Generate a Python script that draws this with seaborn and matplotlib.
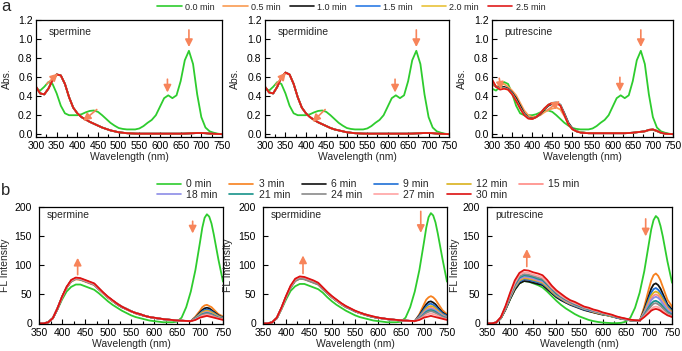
import matplotlib
matplotlib.use("Agg")
import matplotlib.pyplot as plt
from matplotlib.lines import Line2D
from matplotlib.ticker import MultipleLocator
from matplotlib.font_manager import FontProperties
import numpy as np
import pandas as pd
import seaborn as sns

# ---------------- panel a : absorbance ----------------
WL_A = list(range(300, 751, 10))
TIMES_A = ["0.0 min", "0.5 min", "1.0 min", "1.5 min", "2.0 min", "2.5 min"]
COLORS_A = ["#2ecc2e", "#f99b52", "#151515", "#2c7be5", "#e9c23a", "#e01b1b"]

ABS_0MIN = [0.48, 0.46, 0.50, 0.55, 0.53, 0.43, 0.30, 0.22, 0.20, 0.20,
            0.20, 0.21, 0.23, 0.245, 0.25, 0.235, 0.20, 0.16, 0.12, 0.09,
            0.065, 0.055, 0.05, 0.05, 0.05, 0.06, 0.085, 0.12, 0.15, 0.20,
            0.29, 0.38, 0.41, 0.38, 0.41, 0.56, 0.78, 0.88, 0.74, 0.42,
            0.18, 0.07, 0.03, 0.015, 0.005, 0.0]
# spermine: the 0.5-2.5 min spectra coincide in the picture
ABS_SPM_REACTED = [0.50, 0.43, 0.42, 0.48, 0.57, 0.63, 0.62, 0.53, 0.39, 0.28,
                   0.22, 0.18, 0.155, 0.13, 0.11, 0.09, 0.07, 0.055, 0.04, 0.03,
                   0.02, 0.015, 0.01, 0.008, 0.006, 0.005, 0.005, 0.005, 0.005, 0.005,
                   0.005, 0.005, 0.005, 0.005, 0.005, 0.005, 0.006, 0.008, 0.01, 0.012,
                   0.012, 0.01, 0.006, 0.004, 0.002, 0.0]
ABS_SPD_REACTED = [0.50, 0.44, 0.43, 0.50, 0.60, 0.65, 0.63, 0.53, 0.39, 0.28,
                   0.22, 0.18, 0.15, 0.125, 0.105, 0.085, 0.065, 0.05, 0.04, 0.03,
                   0.02, 0.015, 0.01, 0.008, 0.006, 0.005, 0.005, 0.005, 0.005, 0.005,
                   0.005, 0.005, 0.005, 0.005, 0.005, 0.005, 0.006, 0.008, 0.01, 0.012,
                   0.012, 0.01, 0.006, 0.004, 0.002, 0.0]
ABS_PUT_05 = [0.52, 0.50, 0.52, 0.53, 0.50, 0.46, 0.41, 0.33, 0.25, 0.20,
              0.18, 0.185, 0.20, 0.23, 0.255, 0.27, 0.28, 0.26, 0.19, 0.11,
              0.06, 0.03, 0.02, 0.015, 0.01, 0.01, 0.01, 0.01, 0.01, 0.01,
              0.01, 0.01, 0.01, 0.01, 0.012, 0.015, 0.02, 0.025, 0.03, 0.04,
              0.045, 0.03, 0.015, 0.005, 0.002, 0.0]
ABS_PUT_10 = [0.55, 0.50, 0.49, 0.50, 0.48, 0.44, 0.38, 0.30, 0.22, 0.175,
              0.165, 0.18, 0.21, 0.26, 0.30, 0.32, 0.33, 0.31, 0.22, 0.12,
              0.06, 0.03, 0.02, 0.015, 0.01, 0.01, 0.01, 0.01, 0.01, 0.01,
              0.01, 0.01, 0.01, 0.01, 0.012, 0.015, 0.02, 0.025, 0.03, 0.045,
              0.048, 0.033, 0.015, 0.005, 0.002, 0.0]
ABS_PUT_15 = [0.56, 0.50, 0.48, 0.49, 0.475, 0.43, 0.36, 0.28, 0.21, 0.17,
              0.16, 0.18, 0.22, 0.27, 0.31, 0.33, 0.335, 0.31, 0.21, 0.11,
              0.055, 0.03, 0.02, 0.015, 0.01, 0.01, 0.01, 0.01, 0.01, 0.01,
              0.01, 0.01, 0.01, 0.01, 0.012, 0.015, 0.02, 0.025, 0.03, 0.045,
              0.05, 0.035, 0.015, 0.005, 0.002, 0.0]
ABS_PUT_20 = [0.57, 0.50, 0.475, 0.485, 0.47, 0.425, 0.355, 0.275, 0.205, 0.167,
              0.16, 0.18, 0.22, 0.27, 0.31, 0.33, 0.333, 0.305, 0.205, 0.105,
              0.052, 0.03, 0.02, 0.015, 0.01, 0.01, 0.01, 0.01, 0.01, 0.01,
              0.01, 0.01, 0.01, 0.01, 0.012, 0.015, 0.02, 0.025, 0.03, 0.045,
              0.05, 0.035, 0.015, 0.005, 0.002, 0.0]
ABS_PUT_25 = [0.58, 0.50, 0.47, 0.48, 0.47, 0.42, 0.35, 0.27, 0.20, 0.165,
              0.16, 0.18, 0.22, 0.27, 0.31, 0.33, 0.33, 0.30, 0.20, 0.10,
              0.05, 0.03, 0.015, 0.012, 0.01, 0.01, 0.01, 0.01, 0.01, 0.01,
              0.01, 0.01, 0.01, 0.01, 0.012, 0.015, 0.02, 0.025, 0.03, 0.045,
              0.05, 0.035, 0.015, 0.005, 0.002, 0.0]

# ---------------- panel b : fluorescence ----------------
WL_B = list(range(350, 681, 10)) + [690, 700, 705, 710, 715, 720, 725, 730, 740, 750]
TIMES_B = ["0 min", "3 min", "6 min", "9 min", "12 min", "15 min",
           "18 min", "21 min", "24 min", "27 min", "30 min"]
COLORS_B = ["#2ecc2e", "#f7801e", "#111111", "#1f6fd6", "#d9b21c", "#ff8a84",
            "#8c8ce6", "#16928a", "#8a8a8a", "#ffa3a3", "#dd1111"]

FL_SPM_00 = [0, 0, 2, 9, 24, 41, 55, 63, 67, 67, 64, 61, 58, 52, 45, 38, 32, 27, 22, 18,
             14, 11, 9, 7, 5, 4, 3, 2, 2, 2, 3, 10, 28, 55,
             92, 140, 165, 182, 188, 184, 172, 153, 110, 72]
FL_SPM_03 = [0, 0, 2, 9, 25, 44, 61, 72, 76, 75, 72, 69, 66, 59, 51, 44, 38, 33, 28, 24,
             21, 17, 15, 13, 11, 9.5, 8.4, 7.2, 6.5, 5.7, 4.9, 4.6, 4.2, 3.8,
             12, 22, 28, 31, 32, 30, 28, 24, 16, 12]
FL_SPM_06 = [0, 0, 2, 9, 25, 45, 62, 73, 77, 76, 73, 70, 67, 59, 52, 45, 39, 33, 28, 25,
             21, 18, 15, 13, 11, 9.6, 8.5, 7.3, 6.5, 5.8, 5.0, 4.6, 4.2, 3.9,
             10, 19, 23, 26, 27, 26, 23, 20, 14, 10]
FL_SPM_09 = [0, 0, 2, 9, 25, 45, 62, 73, 77, 76, 73, 70, 67, 59, 52, 45, 39, 33, 28, 25,
             21, 18, 15, 13, 11, 9.6, 8.5, 7.3, 6.5, 5.8, 5.0, 4.6, 4.2, 3.9,
             10, 17, 21, 23, 24, 23, 21, 18, 13, 10]
FL_SPM_12 = [0, 0, 2, 9, 25, 45, 62, 73, 77, 76, 73, 70, 67, 59, 52, 45, 39, 33, 28, 25,
             21, 18, 15, 13, 11, 9.6, 8.5, 7.3, 6.5, 5.8, 5.0, 4.6, 4.2, 3.9,
             9, 16, 19, 21, 22, 21, 19, 17, 12, 9]
FL_SPM_15 = [0, 0, 2, 9, 26, 45, 62, 74, 78, 77, 74, 71, 68, 60, 52, 45, 39, 34, 29, 25,
             21, 18, 16, 13, 11, 9.8, 8.6, 7.4, 6.6, 5.9, 5.1, 4.7, 4.3, 3.9,
             8, 14, 17, 19, 20, 19, 17, 15, 11, 8]
FL_SPM_18 = [0, 0, 2, 9, 25, 45, 62, 73, 77, 76, 73, 70, 67, 59, 52, 45, 39, 33, 28, 25,
             21, 18, 15, 13, 11, 9.6, 8.5, 7.3, 6.5, 5.8, 5.0, 4.6, 4.2, 3.9,
             8, 14, 16, 18, 19, 18, 16, 14, 10, 8]
FL_SPM_21 = [0, 0, 2, 9, 26, 45, 62, 74, 78, 77, 74, 71, 68, 60, 52, 45, 39, 34, 29, 25,
             21, 18, 16, 13, 11, 9.8, 8.6, 7.4, 6.6, 5.9, 5.1, 4.7, 4.3, 3.9,
             8, 13, 16, 17, 18, 17, 16, 14, 10, 8]
FL_SPM_24 = [0, 0, 2, 9, 25, 45, 62, 73, 77, 76, 73, 70, 67, 59, 52, 45, 39, 33, 28, 25,
             21, 18, 15, 13, 11, 9.6, 8.5, 7.3, 6.5, 5.8, 5.0, 4.6, 4.2, 3.9,
             7, 12, 15, 16, 17, 16, 15, 13, 9, 7]
FL_SPM_27 = [0, 0, 2, 9, 26, 45, 62, 74, 78, 77, 74, 71, 68, 60, 52, 45, 39, 34, 29, 25,
             21, 18, 16, 13, 11, 9.8, 8.6, 7.4, 6.6, 5.9, 5.1, 4.7, 4.3, 3.9,
             7, 11, 13, 14, 15, 14, 13, 11, 9, 7]
FL_SPM_30 = [0, 0, 2, 9, 26, 46, 63, 75, 79, 78, 75, 72, 69, 61, 53, 46, 40, 34, 29, 25,
             21, 18, 16, 13, 11, 9.9, 8.7, 7.5, 6.7, 5.9, 5.1, 4.7, 4.3, 4.0,
             6, 10, 11, 12, 13, 12, 11, 10, 8, 6]

FL_SPD_00 = [0, 0, 2, 9, 24, 41, 56, 64, 68, 68, 65, 62, 59, 53, 45, 38, 32, 27, 22, 18,
             14, 11, 9, 7, 5, 4, 3, 2, 2, 2, 3, 10, 28, 55,
             92, 140, 165, 183, 190, 186, 174, 155, 112, 72]
FL_SPD_03 = [0, 0, 2, 9, 25, 45, 62, 73, 77, 76, 73, 70, 67, 59, 52, 45, 39, 33, 28, 25,
             21, 18, 15, 13, 11, 9.6, 8.5, 7.3, 6.5, 5.8, 5.0, 4.6, 4.2, 3.9,
             16, 33, 41, 45, 47, 45, 41, 35, 23, 16]
FL_SPD_06 = [0, 0, 2, 9, 26, 45, 62, 74, 78, 77, 74, 71, 68, 60, 52, 45, 39, 34, 29, 25,
             21, 18, 16, 13, 11, 9.8, 8.6, 7.4, 6.6, 5.9, 5.1, 4.7, 4.3, 3.9,
             14, 27, 33, 37, 38, 36, 33, 28, 19, 14]
FL_SPD_09 = [0, 0, 2, 9, 26, 45, 62, 74, 78, 77, 74, 71, 68, 60, 52, 45, 39, 34, 29, 25,
             21, 18, 16, 13, 11, 9.8, 8.6, 7.4, 6.6, 5.9, 5.1, 4.7, 4.3, 3.9,
             13, 24, 29, 33, 34, 32, 29, 25, 17, 13]
FL_SPD_12 = [0, 0, 2, 9, 26, 45, 62, 74, 78, 77, 74, 71, 68, 60, 52, 45, 39, 34, 29, 25,
             21, 18, 16, 13, 11, 9.8, 8.6, 7.4, 6.6, 5.9, 5.1, 4.7, 4.3, 3.9,
             11, 21, 26, 29, 30, 29, 26, 22, 15, 11]
FL_SPD_15 = [0, 0, 2, 9, 26, 46, 63, 75, 79, 78, 75, 72, 69, 61, 53, 46, 40, 34, 29, 25,
             21, 18, 16, 13, 11, 9.9, 8.7, 7.5, 6.7, 5.9, 5.1, 4.7, 4.3, 4.0,
             10, 19, 23, 26, 27, 26, 23, 20, 14, 10]
FL_SPD_18 = [0, 0, 2, 9, 26, 46, 63, 75, 79, 78, 75, 72, 69, 61, 53, 46, 40, 34, 29, 25,
             21, 18, 16, 13, 11, 9.9, 8.7, 7.5, 6.7, 5.9, 5.1, 4.7, 4.3, 4.0,
             10, 18, 22, 24, 25, 24, 22, 19, 13, 10]
FL_SPD_21 = [0, 0, 2, 9, 26, 46, 63, 75, 79, 78, 75, 72, 69, 61, 53, 46, 40, 34, 29, 25,
             21, 18, 16, 13, 11, 9.9, 8.7, 7.5, 6.7, 5.9, 5.1, 4.7, 4.3, 4.0,
             9, 16, 20, 22, 23, 22, 20, 17, 12, 9]
FL_SPD_24 = [0, 0, 2, 9, 25, 45, 62, 73, 77, 76, 73, 70, 67, 59, 52, 45, 39, 33, 28, 25,
             21, 18, 15, 13, 11, 9.6, 8.5, 7.3, 6.5, 5.8, 5.0, 4.6, 4.2, 3.9,
             9, 15, 18, 20, 21, 20, 18, 16, 11, 9]
FL_SPD_27 = [0, 0, 2, 10, 26, 46, 64, 76, 80, 79, 76, 73, 70, 62, 54, 46, 40, 34, 30, 26,
             22, 18, 16, 14, 12, 10, 8.8, 7.6, 6.8, 6.0, 5.2, 4.8, 4.4, 4.0,
             7, 12, 15, 16, 17, 16, 15, 13, 9, 7]
FL_SPD_30 = [0, 0, 2, 10, 27, 47, 65, 77, 81, 80, 77, 74, 70, 62, 54, 47, 41, 35, 30, 26,
             22, 19, 16, 14, 12, 10, 8.9, 7.7, 6.9, 6.1, 5.3, 4.9, 4.5, 4.1,
             6, 10, 11, 12, 13, 12, 11, 10, 8, 6]

FL_PUT_00 = [0, 0, 1.5, 9, 24, 42, 58, 69, 73, 72, 69, 66, 62, 55, 47, 39, 32, 26, 21, 16,
             12, 9, 6, 4, 2.5, 1.5, 1, 0.5, 0.5, 1, 3, 10, 27, 53,
             90, 138, 162, 178, 185, 181, 168, 150, 107, 70]
FL_PUT_03 = [0, 0, 1.5, 9, 24, 43, 59, 70, 74, 73, 71, 69, 67, 60, 53, 46, 41, 36, 33, 30,
             27, 24, 21, 19, 17, 16, 14, 12, 10, 8, 7, 5, 4.4, 4.1,
             29, 60, 74, 83, 86, 82, 74, 63, 41, 29]
FL_PUT_06 = [0, 0, 1.5, 9, 24, 42, 58, 69, 73, 72, 70, 68, 66, 59, 52, 45, 40, 36, 32, 29,
             26, 23, 21, 19, 17, 15, 14, 12, 10, 8, 6.6, 5.1, 4.4, 4.0,
             24, 48, 60, 67, 69, 66, 60, 51, 33, 24]
FL_PUT_09 = [0, 0, 1.5, 9, 25, 44, 61, 72, 76, 75, 73, 71, 68, 62, 54, 47, 42, 37, 33, 30,
             27, 24, 22, 20, 18, 16, 14, 12, 10, 8.4, 6.8, 5.3, 4.6, 4.2,
             21, 43, 53, 59, 61, 58, 53, 45, 30, 21]
FL_PUT_12 = [0, 0, 1.6, 9, 26, 45, 62, 74, 78, 77, 75, 73, 70, 63, 55, 48, 43, 38, 34, 31,
             28, 25, 23, 20, 18, 16, 14, 12, 11, 8.6, 7.0, 5.5, 4.7, 4.3,
             20, 39, 48, 53, 55, 53, 48, 41, 27, 20]
FL_PUT_15 = [0, 0, 1.6, 10, 26, 46, 64, 76, 80, 79, 77, 74, 72, 65, 57, 50, 44, 39, 35, 32,
             29, 26, 23, 21, 19, 17, 15, 13, 11, 8.8, 7.2, 5.6, 4.8, 4.4,
             18, 35, 43, 48, 50, 48, 43, 37, 25, 18]
FL_PUT_18 = [0, 0, 1.6, 10, 27, 47, 65, 77, 81, 80, 78, 75, 73, 66, 58, 50, 45, 40, 36, 32,
             29, 26, 23, 21, 19, 17, 15, 13, 11, 8.9, 7.3, 5.7, 4.9, 4.5,
             17, 32, 40, 44, 46, 44, 40, 34, 23, 17]
FL_PUT_21 = [0, 0, 1.7, 10, 27, 48, 66, 79, 83, 82, 80, 77, 75, 67, 59, 51, 46, 41, 37, 33,
             30, 27, 24, 22, 20, 17, 15, 13, 11, 9.1, 7.5, 5.8, 5.0, 4.6,
             15, 28, 34, 38, 39, 37, 34, 29, 20, 15]
FL_PUT_24 = [0, 0, 1.7, 10, 28, 49, 68, 81, 85, 84, 82, 79, 77, 69, 60, 53, 47, 42, 37, 34,
             31, 27, 25, 22, 20, 18, 16, 14, 11, 9.4, 7.7, 6.0, 5.1, 4.7,
             14, 25, 30, 34, 35, 33, 30, 26, 18, 14]
FL_PUT_27 = [0, 0, 1.8, 11, 29, 51, 70, 84, 88, 87, 84, 82, 79, 71, 62, 55, 48, 43, 39, 35,
             32, 28, 26, 23, 21, 18, 16, 14, 12, 9.7, 7.9, 6.2, 5.3, 4.8,
             12, 21, 25, 28, 29, 28, 25, 22, 15, 12]
FL_PUT_30 = [0, 0, 1.8, 11, 30, 53, 74, 87, 92, 91, 88, 86, 83, 75, 65, 57, 51, 45, 40, 37,
             33, 29, 27, 24, 22, 19, 17, 15, 12, 10, 8.3, 6.4, 5.5, 5.1,
             11, 18, 22, 24, 25, 24, 22, 19, 14, 11]

ARROW_C = "#f7845a"


def to_long(wl, times, series):
    return pd.DataFrame({
        "wl": np.tile(np.asarray(wl, float), len(times)),
        "val": np.concatenate([np.asarray(s, float) for s in series]),
        "time": np.repeat(times, len(wl)),
    })


def arrow(ax, x0, y0, x1, y1):
    ax.annotate("", xy=(x1, y1), xytext=(x0, y0),
                arrowprops=dict(arrowstyle="-|>,head_length=0.55,head_width=0.28",
                                color=ARROW_C, lw=1.2, shrinkA=0, shrinkB=0,
                                mutation_scale=8))


def style(ax, xlim, ylim, xmaj, ymaj, ylabel, ylab_x, xlab_y, ypad):
    ax.set_xlim(*xlim)
    ax.set_ylim(*ylim)
    ax.xaxis.set_major_locator(MultipleLocator(xmaj))
    ax.xaxis.set_minor_locator(MultipleLocator(xmaj / 2))
    ax.yaxis.set_major_locator(MultipleLocator(ymaj))
    ax.tick_params(which="both", direction="in", top=False, right=False,
                   labelsize=7.5, width=0.8, colors="black")
    ax.tick_params(axis="x", which="both", pad=3.0)
    ax.tick_params(axis="y", which="both", pad=ypad)
    ax.tick_params(which="major", length=3.5)
    ax.tick_params(which="minor", length=2)
    for s in ax.spines.values():
        s.set_visible(True)
        s.set_color("black")
        s.set_linewidth(0.9)
    ax.set_xlabel("Wavelength (nm)", fontsize=7.5)
    ax.set_ylabel(ylabel, fontsize=7.5)
    ax.xaxis.set_label_coords(0.5, xlab_y)
    ax.yaxis.set_label_coords(ylab_x, 0.5)


sns.set_style("ticks")
plt.rcParams["font.family"] = ["Liberation Sans", "DejaVu Sans"]

fig = plt.figure(figsize=(6.82, 3.51), dpi=100)

AX_A = [[0.0528, 0.6097, 0.2727, 0.3333],
        [0.3886, 0.6097, 0.2698, 0.3333],
        [0.7214, 0.6097, 0.2654, 0.3333]]
AX_B = [[0.0572, 0.0769, 0.2698, 0.3333],
        [0.3856, 0.0769, 0.2698, 0.3333],
        [0.7141, 0.0769, 0.2713, 0.3333]]

PANELS_A = [
    ("spermine", [ABS_0MIN] + [ABS_SPM_REACTED] * 5),
    ("spermidine", [ABS_0MIN] + [ABS_SPD_REACTED] * 5),
    ("putrescine", [ABS_0MIN, ABS_PUT_05, ABS_PUT_10, ABS_PUT_15, ABS_PUT_20, ABS_PUT_25]),
]
PANELS_B = [
    ("spermine", [FL_SPM_00, FL_SPM_03, FL_SPM_06, FL_SPM_09, FL_SPM_12, FL_SPM_15,
                  FL_SPM_18, FL_SPM_21, FL_SPM_24, FL_SPM_27, FL_SPM_30]),
    ("spermidine", [FL_SPD_00, FL_SPD_03, FL_SPD_06, FL_SPD_09, FL_SPD_12, FL_SPD_15,
                    FL_SPD_18, FL_SPD_21, FL_SPD_24, FL_SPD_27, FL_SPD_30]),
    ("putrescine", [FL_PUT_00, FL_PUT_03, FL_PUT_06, FL_PUT_09, FL_PUT_12, FL_PUT_15,
                    FL_PUT_18, FL_PUT_21, FL_PUT_24, FL_PUT_27, FL_PUT_30]),
]

ARROWS_A = [
    [(670, 1.10, 670, 0.92), (618, 0.58, 618, 0.44), (326, 0.53, 353, 0.64), (447, 0.26, 414, 0.14)],
    [(670, 1.10, 670, 0.92), (618, 0.58, 618, 0.44), (326, 0.52, 351, 0.65), (447, 0.26, 416, 0.13)],
    [(670, 1.10, 670, 0.92), (618, 0.60, 618, 0.45), (318, 0.59, 323, 0.47), (436, 0.25, 469, 0.35)],
]
ARROWS_B = [
    [(434, 84, 434, 113), (684, 176, 684, 155)],
    [(437, 86, 437, 117), (693, 193, 693, 156)],
    [(436, 98, 436, 128), (693, 180, 693, 150)],
]

pal_a = dict(zip(TIMES_A, COLORS_A))
pal_b = dict(zip(TIMES_B, COLORS_B))
YLAB_X_A = [-0.13, -0.135, -0.14]
YLAB_X_B = [-0.155, -0.165, -0.148]

for i, (name, series) in enumerate(PANELS_A):
    ax = fig.add_axes(AX_A[i])
    df = to_long(WL_A, TIMES_A, series)
    sns.lineplot(data=df, x="wl", y="val", hue="time", hue_order=TIMES_A,
                 palette=pal_a, estimator=None, legend=False, linewidth=1.3, ax=ax)
    style(ax, (300, 750), (-0.03, 1.205), 50, 0.2, "Abs.", YLAB_X_A[i], -0.125, 2.5)
    ax.text(330, 1.08, name, fontsize=7.5, va="center", ha="left")
    for a in ARROWS_A[i]:
        arrow(ax, *a)

for i, (name, series) in enumerate(PANELS_B):
    ax = fig.add_axes(AX_B[i])
    df = to_long(WL_B, TIMES_B, series)
    sns.lineplot(data=df, x="wl", y="val", hue="time", hue_order=TIMES_B,
                 palette=pal_b, estimator=None, legend=False, linewidth=1.3, ax=ax)
    style(ax, (350, 750), (-1, 200.5), 50, 50, "FL Intensity", YLAB_X_B[i], -0.13, 5.0)
    ax.text(367, 187, name, fontsize=7.5, va="center", ha="left")
    for a in ARROWS_B[i]:
        arrow(ax, *a)

# legends
h_a = [Line2D([], [], color=c, lw=1.2) for c in COLORS_A]
fig.legend(h_a, TIMES_A, ncol=6, loc="center", bbox_to_anchor=(0.515, 0.98),
           frameon=False, prop=FontProperties(family=["Liberation Sans Narrow", "Liberation Sans"], size=6.5),
           handlelength=2.7, handletextpad=0.35, columnspacing=1.0, borderpad=0,
           borderaxespad=0)

order = [0, 6, 1, 7, 2, 8, 3, 9, 4, 10, 5]
h_b = [Line2D([], [], color=COLORS_B[k], lw=1.2) for k in order]
l_b = [TIMES_B[k] for k in order]
fig.legend(h_b, l_b, ncol=6, loc="center", bbox_to_anchor=(0.54, 0.46),
           frameon=False, fontsize=7.5, handlelength=2.3, handletextpad=0.5,
           columnspacing=1.15, labelspacing=0.05, borderpad=0, borderaxespad=0)

fig.text(0.002, 0.968, "a", fontsize=12, va="baseline", ha="left")
fig.text(0.002, 0.444, "b", fontsize=12, va="baseline", ha="left")

fig.savefig("out.png", dpi=100)
